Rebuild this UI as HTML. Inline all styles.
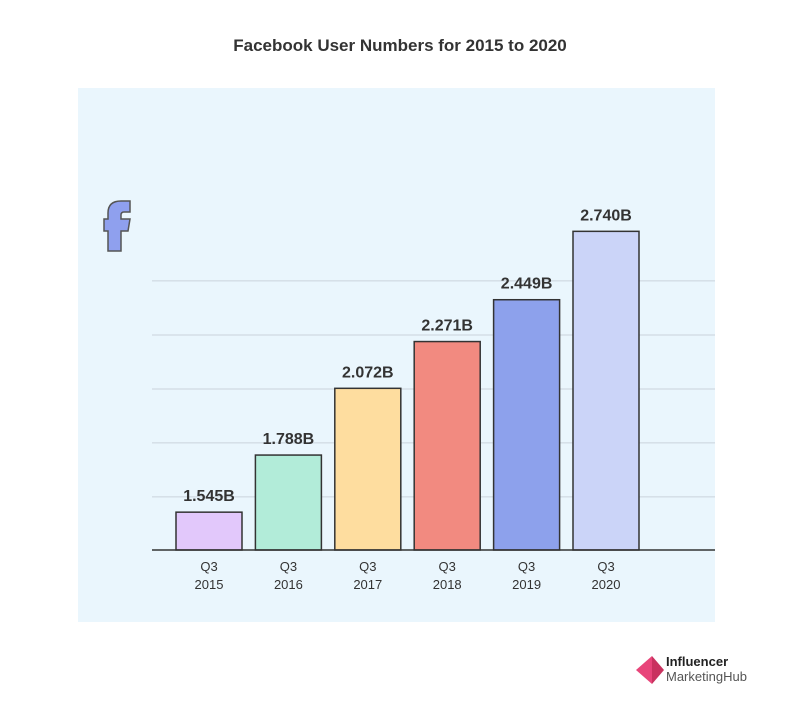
<!DOCTYPE html>
<html><head><meta charset="utf-8"><style>
body{margin:0;background:#fff;width:800px;height:719px;overflow:hidden;font-family:"Liberation Sans",sans-serif}
</style></head><body>
<svg width="800" height="719">
<text x="400" y="51" text-anchor="middle" font-size="17" font-weight="bold" fill="#333">Facebook User Numbers for 2015 to 2020</text>
<rect x="78" y="88" width="637" height="534" fill="#eaf6fd"/>
<path d="M108,251 L108,231 L104,231 L104,219 L108,219 L108,213 Q108,201 121,201 L130,201 L130,212 L124,212 Q121,212 121,215 L121,219 L130,219 L128,231 L121,231 L121,251 Z" fill="#8fa0ee" stroke="#555" stroke-width="1.5"/>
<g id="grid"></g><g id="bars"></g>
<line x1="152" y1="550" x2="715" y2="550" stroke="#333" stroke-width="1.5"/>
<g>
<path d="M636,670 L652,656 L652,684 Z" fill="#e8457a"/>
<path d="M652,656 L664,670 L652,684 Z" fill="#c9325f"/>
<text x="666" y="666" font-size="13" font-weight="bold" fill="#222">Influencer</text>
<text x="666" y="681" font-size="13" fill="#555">MarketingHub</text>
</g>
</svg>
<script>
const categories=["Q3|2015","Q3|2016","Q3|2017","Q3|2018","Q3|2019","Q3|2020"];
const values=[1.545,1.788,2.072,2.271,2.449,2.740];
const labels=["1.545B","1.788B","2.072B","2.271B","2.449B","2.740B"];
const colors=["#e2c8fb","#b2ecd9","#fedd9f","#f28a80","#8da1ec","#cbd4f8"];
const gridVals=[1.610,1.840,2.069,2.299,2.529];
const NS="http://www.w3.org/2000/svg";
function yScale(v){return 550-(v-1.384)*235;}
function xScale(i){return 176+i*79.4;}
const bw=66;
const grid=document.getElementById('grid'),bars=document.getElementById('bars');
gridVals.forEach(g=>{const l=document.createElementNS(NS,'line');


const y=yScale(g);l.setAttribute('x1',152);l.setAttribute('x2',715);l.setAttribute('y1',y);l.setAttribute('y2',y);l.setAttribute('stroke','#c9d3dc');l.setAttribute('stroke-width','1');grid.appendChild(l);});
values.forEach((v,i)=>{const x=xScale(i),y=yScale(v);
const r=document.createElementNS(NS,'rect');


r.setAttribute('x',x);r.setAttribute('y',y);r.setAttribute('width',bw);r.setAttribute('height',550-y);r.setAttribute('fill',colors[i]);r.setAttribute('stroke','#333');r.setAttribute('stroke-width','1.5');bars.appendChild(r);
const t=document.createElementNS(NS,'text');


t.setAttribute('x',x+bw/2);t.setAttribute('y',y-11);t.setAttribute('text-anchor','middle');t.setAttribute('font-size','16');t.setAttribute('font-weight','bold');t.setAttribute('fill','#333');t.textContent=labels[i];bars.appendChild(t);
categories[i].split('|').forEach((s,k)=>{const c=document.createElementNS(NS,'text');


c.setAttribute('x',x+bw/2);c.setAttribute('y',571+k*18);c.setAttribute('text-anchor','middle');c.setAttribute('font-size','13');c.setAttribute('fill','#333');c.textContent=s;bars.appendChild(c);});
});
</script>
</body></html>
